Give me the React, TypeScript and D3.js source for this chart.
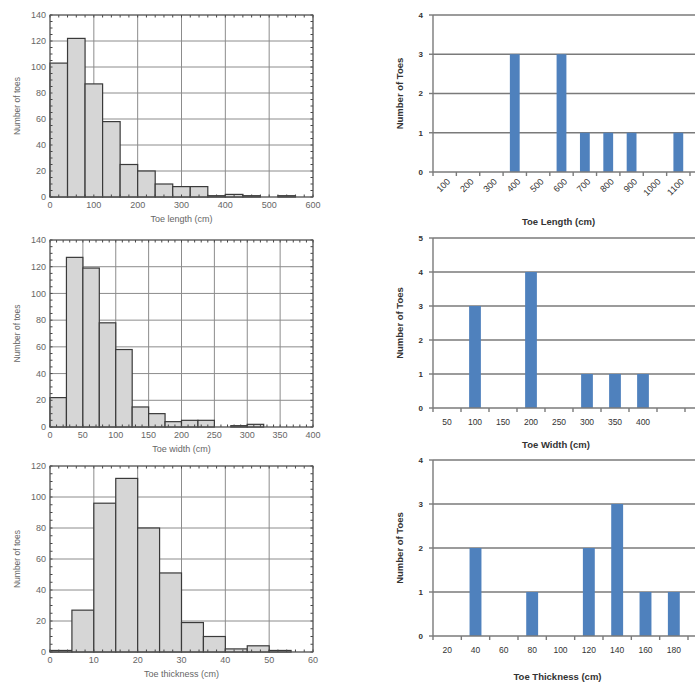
import React from "react";
import * as d3 from "d3";

// ---- Left histograms (binned counts) ----
const lengthBinWidth = 40;
const lengthCounts = [103, 122, 87, 58, 25, 20, 10, 8, 8, 1, 2, 1, 0, 1];
const lengthTicks = [0, 100, 200, 300, 400, 500, 600];

const widthBinWidth = 25;
const widthCounts = [22, 127, 119, 78, 58, 15, 10, 4, 5, 5, 0, 1, 2, 0, 0, 0];
const widthTicks = [0, 50, 100, 150, 200, 250, 300, 350, 400];

const thickBinWidth = 5;
const thickCounts = [1, 27, 96, 112, 80, 51, 19, 10, 2, 4, 1, 0];
const thickTicks = [0, 10, 20, 30, 40, 50, 60];

// ---- Right bar charts ----
const lenCats = ["100", "200", "300", "400", "500", "600", "700", "800", "900", "1000", "1100"];
const lenToes = [0, 0, 0, 3, 0, 3, 1, 1, 1, 0, 1];

const widCats = ["50", "100", "150", "200", "250", "300", "350", "400", ""];
const widToes = [0, 3, 0, 4, 0, 1, 1, 1, 0];

const thkCats = ["20", "40", "60", "80", "100", "120", "140", "160", "180"];
const thkToes = [0, 2, 0, 1, 0, 2, 3, 1, 1];

const FONT = "'Liberation Sans', Arial, sans-serif";

type HistProps = {
  counts: number[];
  binWidth: number;
  xTicks: number[];
  yMax: number;
  top: number;
  bottom: number;
  xTitle: string;
};

function Histogram({ counts, binWidth, xTicks, yMax, top, bottom, xTitle }: HistProps) {
  const left = 50, right = 313;
  const xMax = xTicks[xTicks.length - 1];
  const x = d3.scaleLinear().domain([0, xMax]).range([left, right]);
  const y = d3.scaleLinear().domain([0, yMax]).range([bottom, top]);
  const yTicks = d3.range(0, yMax + 1, 20);
  const xStep = xTicks[1] - xTicks[0];
  const xMinor = d3.range(0, xMax + 0.001, xStep / 5);
  const yMinor = d3.range(0, yMax + 0.001, 5);
  const grid = "#8c8c8c";
  const txt = "#666";
  return (
    <g>
      {yTicks.map((t) => (
        <line key={"gy" + t} x1={left} x2={right} y1={y(t)} y2={y(t)} stroke={grid} strokeWidth={1} />
      ))}
      {xTicks.map((t) => (
        <line key={"gx" + t} x1={x(t)} x2={x(t)} y1={top} y2={bottom} stroke={grid} strokeWidth={1} />
      ))}
      {counts.map((c, i) =>
        c > 0 ? (
          <rect
            key={"b" + i}
            x={x(i * binWidth)}
            y={y(c)}
            width={x((i + 1) * binWidth) - x(i * binWidth)}
            height={y(0) - y(c)}
            fill="#d6d6d6"
            stroke="#3a3a3a"
            strokeWidth={1.2}
          />
        ) : null
      )}
      {xMinor.map((t, i) => (
        <g key={"mx" + i}>
          <line x1={x(t)} x2={x(t)} y1={bottom} y2={bottom - 2.5} stroke="#444" strokeWidth={1} />
          <line x1={x(t)} x2={x(t)} y1={top} y2={top + 2.5} stroke="#444" strokeWidth={1} />
        </g>
      ))}
      {yMinor.map((t, i) => (
        <g key={"my" + i}>
          <line x1={left} x2={left + 2.5} y1={y(t)} y2={y(t)} stroke="#444" strokeWidth={1} />
          <line x1={right} x2={right - 2.5} y1={y(t)} y2={y(t)} stroke="#444" strokeWidth={1} />
        </g>
      ))}
      <rect x={left} y={top} width={right - left} height={bottom - top} fill="none" stroke="#555" strokeWidth={1} />
      {yTicks.map((t) => (
        <text key={"ly" + t} x={left - 4} y={y(t)} dy="0.35em" textAnchor="end" fontSize={9} fill={txt} fontFamily={FONT}>
          {t}
        </text>
      ))}
      {xTicks.map((t) => (
        <text key={"lx" + t} x={x(t)} y={bottom + 11} textAnchor="middle" fontSize={9} fill={txt} fontFamily={FONT}>
          {t}
        </text>
      ))}
      <text
        transform={`translate(20,${(top + bottom) / 2}) rotate(-90)`}
        textAnchor="middle"
        fontSize={8.5}
        fill={txt}
        fontFamily={FONT}
      >
        Number of toes
      </text>
      <text x={(left + right) / 2} y={bottom + 25} textAnchor="middle" fontSize={9} fill={txt} fontFamily={FONT}>
        {xTitle}
      </text>
    </g>
  );
}

type BarProps = {
  cats: string[];
  values: number[];
  yMax: number;
  top: number;
  bottom: number;
  right: number;
  rotate: boolean;
  xTitle: string;
  titleY: number;
};

function BarChart({ cats, values, yMax, top, bottom, right, rotate, xTitle, titleY }: BarProps) {
  const left = 433;
  const x = d3.scaleBand<string>().domain(cats.map((c, i) => i + "")).range([left, right]).padding(0);
  const y = d3.scaleLinear().domain([0, yMax]).range([bottom, top]);
  const yTicks = d3.range(0, yMax + 1, 1);
  const bw = x.bandwidth();
  const barW = bw * 0.42;
  const axis = "#7a7a7a";
  const txt = "#333";
  return (
    <g>
      {yTicks.filter((t) => t > 0).map((t) => (
        <line key={"g" + t} x1={left} x2={695} y1={y(t)} y2={y(t)} stroke={axis} strokeWidth={1.4} />
      ))}
      {values.map((v, i) =>
        v > 0 ? (
          <rect
            key={"b" + i}
            x={(x(i + "") as number) + bw / 2 - barW / 2}
            y={y(v)}
            width={barW}
            height={y(0) - y(v)}
            fill="#4f81bd"
          />
        ) : null
      )}
      <line x1={left} x2={left} y1={top} y2={bottom} stroke={axis} strokeWidth={1.4} />
      <line x1={left} x2={695} y1={bottom} y2={bottom} stroke={axis} strokeWidth={1.4} />
      {yTicks.map((t) => (
        <g key={"yt" + t}>
          <line x1={left - 4} x2={left} y1={y(t)} y2={y(t)} stroke={axis} strokeWidth={1.4} />
          <text x={left - 10} y={y(t)} dy="0.35em" textAnchor="end" fontSize={8} fontWeight="bold" fill={txt} fontFamily={FONT}>
            {t}
          </text>
        </g>
      ))}
      {d3.range(0, cats.length + 1).map((i) => (
        <line key={"xt" + i} x1={left + i * bw} x2={left + i * bw} y1={bottom} y2={bottom + 4} stroke={axis} strokeWidth={1.4} />
      ))}
      {cats.map((c, i) => {
        const cx = (x(i + "") as number) + bw / 2;
        return rotate ? (
          <text
            key={"xl" + i}
            transform={`translate(${cx + 4},${bottom + 8}) rotate(-45)`}
            textAnchor="end"
            dy="0.35em"
            fontSize={9}
            fill={txt}
            fontFamily={FONT}
          >
            {c}
          </text>
        ) : (
          <text key={"xl" + i} x={cx} y={bottom + 17} textAnchor="middle" fontSize={8.5} fill={txt} fontFamily={FONT}>
            {c}
          </text>
        );
      })}
      <text
        transform={`translate(403,${(top + bottom) / 2}) rotate(-90)`}
        textAnchor="middle"
        fontSize={9.5}
        fontWeight="bold"
        fill={txt}
        fontFamily={FONT}
      >
        Number of Toes
      </text>
      <text x={(left + right) / 2 - 3} y={titleY} textAnchor="middle" fontSize={9.5} fontWeight="bold" fill={txt} fontFamily={FONT}>
        {xTitle}
      </text>
    </g>
  );
}

export default function App() {
  return (
    <svg
      width={696}
      height={684}
      style={{ position: "absolute", left: 0, top: 0, background: "#fff" }}
    >
      <rect x={0} y={0} width={696} height={684} fill="#fff" />
      <Histogram counts={lengthCounts} binWidth={lengthBinWidth} xTicks={lengthTicks} yMax={140} top={15} bottom={197} xTitle="Toe length (cm)" />
      <Histogram counts={widthCounts} binWidth={widthBinWidth} xTicks={widthTicks} yMax={140} top={240} bottom={427} xTitle="Toe width (cm)" />
      <Histogram counts={thickCounts} binWidth={thickBinWidth} xTicks={thickTicks} yMax={120} top={466} bottom={652} xTitle="Toe thickness (cm)" />
      <BarChart cats={lenCats} values={lenToes} yMax={4} top={15} bottom={172} right={690} rotate={true} xTitle="Toe Length (cm)" titleY={225} />
      <BarChart cats={widCats} values={widToes} yMax={5} top={238} bottom={408} right={685} rotate={false} xTitle="Toe Width (cm)" titleY={448} />
      <BarChart cats={thkCats} values={thkToes} yMax={4} top={460} bottom={636} right={688} rotate={false} xTitle="Toe Thickness (cm)" titleY={680} />
    </svg>
  );
}
